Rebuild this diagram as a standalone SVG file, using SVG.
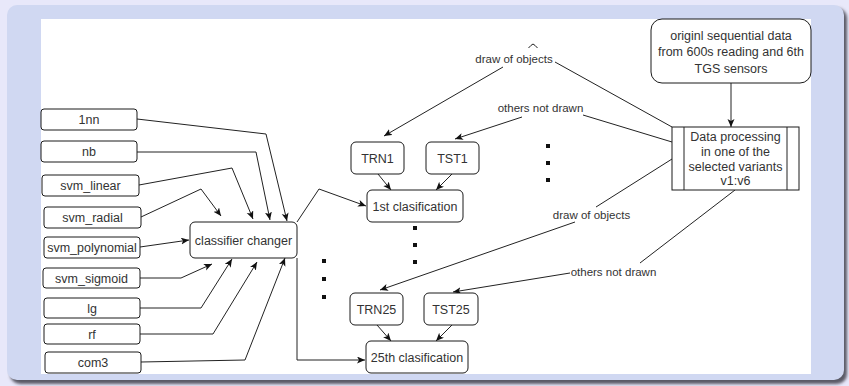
<svg xmlns="http://www.w3.org/2000/svg" width="849" height="386" viewBox="0 0 849 386">
  <defs>
    <marker id="arr" markerUnits="userSpaceOnUse" markerWidth="10" markerHeight="8" refX="8" refY="3.5" orient="auto">
      <path d="M0,0 L8,3.5 L0,7 L2,3.5 z" fill="#111"/>
    </marker>
    <filter id="shadow" x="-5%" y="-5%" width="110%" height="110%">
      <feGaussianBlur stdDeviation="1.5"/>
    </filter>
    <style>
      .box { fill: #fff; stroke: #1a1a1a; stroke-width: 1; }
      .t { font-family: "Liberation Sans", Arial, sans-serif; font-size: 12.5px; fill: #333; text-anchor: middle; }
      .lbl { font-family: "Liberation Sans", Arial, sans-serif; font-size: 11.5px; fill: #333; text-anchor: middle; }
      .ln { fill: none; stroke: #222; stroke-width: 1; }
      .ar { fill: none; stroke: #222; stroke-width: 1; marker-end: url(#arr); }
      .dot { fill: #111; }
    </style>
  </defs>

  <!-- page background and frame -->
  <rect x="0" y="0" width="849" height="386" fill="#e8e8fa"/>
  <rect x="10" y="8" width="837" height="376" rx="10" fill="#5a5a66" filter="url(#shadow)"/>
  <rect x="7" y="5" width="837" height="375" rx="10" fill="#d0d8f2"/>
  <rect x="41" y="19" width="770" height="355" fill="#fff"/>

  <!-- connectors -->
  <g id="connectors">
    <path class="ar" d="M137,119 L266,134 L287,221"/>
    <path class="ar" d="M137,152 L256,152 L270,220"/>
    <path class="ar" d="M139,185 L232,168 L253,219"/>
    <path class="ar" d="M141,217 L201,189 L221,216"/>
    <path class="ar" d="M140,247 L189,240"/>
    <path class="ar" d="M140,278 L181,278 L212,264"/>
    <path class="ar" d="M140,308 L201,308 L232,259"/>
    <path class="ar" d="M140,334 L213,334 L257,262"/>
    <path class="ar" d="M141,362 L245,360 L285,258"/>

    <path class="ar" d="M297,222 L319,189 L366,206"/>
    <path class="ar" d="M297,258 L297,360 L365,360"/>

    <path class="ar" d="M378,174 L391,190"/>
    <path class="ar" d="M452,174 L436,190"/>
    <path class="ar" d="M377,325 L391,341"/>
    <path class="ar" d="M452,325 L436,341"/>

    <path class="ar" d="M731,83 L731,127"/>

    <path class="ln" d="M672,127 L555,62"/>
    <path class="ar" d="M503,67 L384,136"/>
    <path class="ln" d="M528.5,48 Q531,45 533,44 Q535,45 537.5,48"/>
    <text class="lbl" x="514" y="63">draw of objects</text>

    <path class="ln" d="M672,142 L583,115"/>
    <path class="ar" d="M522,117 L455,139"/>
    <text class="lbl" x="540.5" y="112">others not drawn</text>

    <path class="ln" d="M672,159 L596,207"/>
    <path class="ar" d="M575,222 L380,290"/>
    <text class="lbl" x="591.5" y="219">draw of objects</text>

    <path class="ln" d="M735,190 L640,263"/>
    <path class="ar" d="M570,273 L453,292"/>
    <text class="lbl" x="613.5" y="276">others not drawn</text>
  </g>

  <!-- classifier inputs -->
  <g id="n-1nn"><rect class="box" x="41" y="109" width="96" height="21" rx="3"/><text class="t" x="89" y="124">1nn</text></g>
  <g id="n-nb"><rect class="box" x="41" y="141" width="96" height="21" rx="3"/><text class="t" x="89" y="156">nb</text></g>
  <g id="n-svm-linear"><rect class="box" x="42" y="175" width="97" height="21" rx="3"/><text class="t" x="90.5" y="190">svm_linear</text></g>
  <g id="n-svm-radial"><rect class="box" x="44" y="207" width="97" height="21" rx="3"/><text class="t" x="92.5" y="222">svm_radial</text></g>
  <g id="n-svm-polynomial"><rect class="box" x="44" y="237" width="96" height="21" rx="3"/><text class="t" x="92" y="252">svm_polynomial</text></g>
  <g id="n-svm-sigmoid"><rect class="box" x="43" y="268" width="97" height="20" rx="3"/><text class="t" x="91.5" y="282.5">svm_sigmoid</text></g>
  <g id="n-lg"><rect class="box" x="44" y="298" width="96" height="20" rx="3"/><text class="t" x="92" y="312.5">lg</text></g>
  <g id="n-rf"><rect class="box" x="44" y="324" width="96" height="20" rx="3"/><text class="t" x="92" y="338.5">rf</text></g>
  <g id="n-com3"><rect class="box" x="45" y="352" width="96" height="21" rx="3"/><text class="t" x="93" y="367">com3</text></g>

  <!-- classifier changer -->
  <g id="n-classifier-changer"><rect class="box" x="190" y="222" width="107" height="36" rx="5"/><text class="t" x="243.5" y="244.5">classifier changer</text></g>

  <!-- first split -->
  <g id="n-trn1"><rect class="box" x="351" y="142" width="53" height="32" rx="5"/><text class="t" x="377.5" y="162.5">TRN1</text></g>
  <g id="n-tst1"><rect class="box" x="426" y="142" width="53" height="32" rx="5"/><text class="t" x="452.5" y="162.5">TST1</text></g>
  <g id="n-clas1"><rect class="box" x="367" y="190" width="96" height="32" rx="5"/><text class="t" x="415" y="210.5">1st clasification</text></g>

  <!-- last split -->
  <g id="n-trn25"><rect class="box" x="350" y="293" width="53" height="32" rx="5"/><text class="t" x="376.5" y="313.5">TRN25</text></g>
  <g id="n-tst25"><rect class="box" x="424" y="293" width="54" height="32" rx="5"/><text class="t" x="451" y="313.5">TST25</text></g>
  <g id="n-clas25"><rect class="box" x="366" y="341" width="102" height="32" rx="5"/><text class="t" x="417" y="361.5">25th clasification</text></g>

  <!-- ellipsis dots -->
  <g id="dots">
    <rect class="dot" x="546" y="144" width="4" height="4"/>
    <rect class="dot" x="546" y="161" width="4" height="4"/>
    <rect class="dot" x="546" y="178" width="4" height="4"/>
    <rect class="dot" x="413" y="226" width="4" height="4"/>
    <rect class="dot" x="413" y="243" width="4" height="4"/>
    <rect class="dot" x="413" y="260" width="4" height="4"/>
    <rect class="dot" x="322" y="259" width="4" height="4"/>
    <rect class="dot" x="322" y="277" width="4" height="4"/>
    <rect class="dot" x="322" y="295" width="4" height="4"/>
  </g>

  <!-- data source -->
  <g id="n-source">
    <rect class="box" x="651" y="19" width="160" height="64" rx="11"/>
    <text class="t" x="731" y="39.5">originl sequential data</text>
    <text class="t" x="731" y="56">from 600s reading and 6th</text>
    <text class="t" x="731" y="72.5">TGS sensors</text>
  </g>

  <!-- processing step -->
  <g id="n-processing">
    <rect class="box" x="672" y="127" width="127" height="63"/>
    <line class="ln" x1="684" y1="127" x2="684" y2="190"/>
    <line class="ln" x1="787" y1="127" x2="787" y2="190"/>
    <text class="t" x="735.5" y="140.5">Data processing</text>
    <text class="t" x="735.5" y="155.5">in one of the</text>
    <text class="t" x="735.5" y="170.5">selected variants</text>
    <text class="t" x="735.5" y="185">v1:v6</text>
  </g>
</svg>
